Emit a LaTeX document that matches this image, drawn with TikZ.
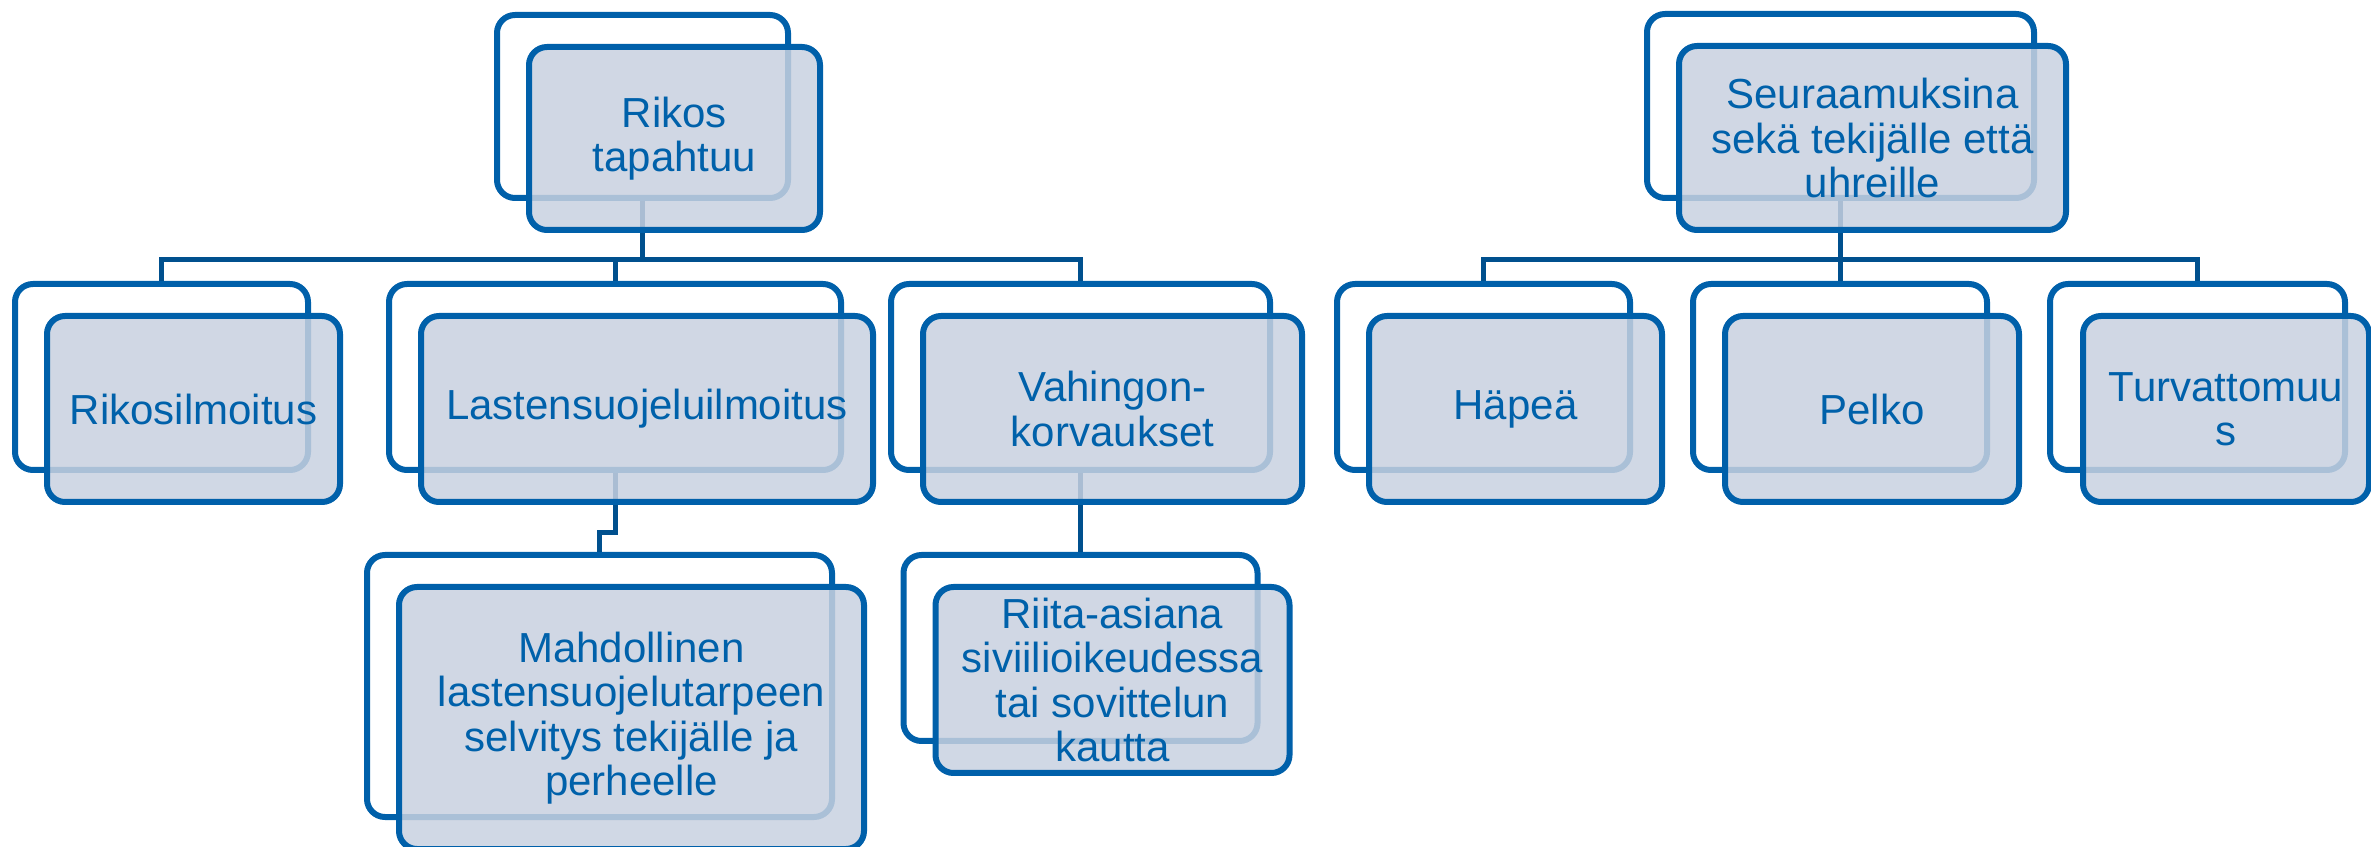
\documentclass[tikz,border=0pt]{standalone}
\usepackage{fontspec}
\setmainfont{Liberation Sans}
\usepackage{tikz}
\usetikzlibrary{calc}
\definecolor{smblue}{RGB}{0,96,170}
\definecolor{smline}{RGB}{0,80,142}
\definecolor{smfill}{RGB}{200,209,224}
\definecolor{smtext}{RGB}{0,97,170}
\tikzset{
  backbox/.style 2 args={draw=smblue, line width=1.8pt, rounded corners=5.4pt, fill=white,
    minimum width=#1*0.3pt, minimum height=#2*0.3pt, inner sep=0pt},
  frontbox/.style 2 args={backbox={#1}{#2}, fill=smfill, fill opacity=0.85, text opacity=1,
    text=smtext, align=center, font=\fontsize{12.6}{13.3}\selectfont},
  link/.style={draw=smline, line width=1.5pt},
}

\begin{document}
\begin{tikzpicture}[x=0.3pt, y=-0.3pt]

  %% <spacing>
  \useasboundingbox (0,0) rectangle (2371,847);
  % </spacing>

  %% back boxes, left tree
  \node[backbox={291}{183}] (rikos) at (642.5,106.5) {};
  \node[backbox={293}{186}] (rilm) at (161.5,377) {};
  \node[backbox={452}{186}] (lsilm) at (615,377) {};
  \node[backbox={379}{186}] (vahinko) at (1080.5,377) {};
  \node[backbox={465}{262}] (mahd) at (599.5,686) {};
  \node[backbox={354}{186}] (riita) at (1080.5,648) {};

  %% back boxes, right tree
  \node[backbox={387}{184}] (seur) at (1840.5,106) {};
  \node[backbox={293}{186}] (hapea) at (1483.5,377) {};
  \node[backbox={294}{186}] (pelko) at (1840,377) {};
  \node[backbox={295}{186}] (turva) at (2197.5,377) {};

  %% connectors
  \foreach \c in {rilm,lsilm,vahinko}
    \draw[link] (rikos.south) -- ++(0,59) -| (\c.north); % rikos->child
  \draw[link] (lsilm.south) -- ++(0,60) -| (mahd.north); % lsilm->mahd
  \draw[link] (vahinko.south) -- (riita.north); % vahinko->riita
  \foreach \c in {hapea,pelko,turva}
    \draw[link] (seur.south) -- ++(0,59) -| (\c.north); % seur->child

  %% front boxes with the texts
  \node[frontbox={291}{183}] (rikos-t) at ([shift={(32,32)}]rikos.center) {Rikos\\tapahtuu};
  \node[frontbox={293}{186}] (rilm-t) at ([shift={(32,32)}]rilm.center) {Rikosilmoitus};
  \node[frontbox={452}{186}] (lsilm-t) at ([shift={(32,32)}]lsilm.center) {Lastensuojeluilmoitus};
  \node[frontbox={379}{186}] (vahinko-t) at ([shift={(32,32)}]vahinko.center) {Vahingon-\\korvaukset};
  \node[frontbox={465}{262}] (mahd-t) at ([shift={(32,32)}]mahd.center)
    {Mahdollinen\\lastensuojelutarpeen\\selvitys tekijälle ja\\perheelle};
  \node[frontbox={354}{186}] (riita-t) at ([shift={(32,32)}]riita.center)
    {Riita-asiana\\siviilioikeudessa\\tai sovittelun\\kautta};

  \node[frontbox={387}{184}] (seur-t) at ([shift={(32,32)}]seur.center)
    {Seuraamuksina\\sekä tekijälle että\\uhreille};
  \node[frontbox={293}{186}] (hapea-t) at ([shift={(32,32)}]hapea.center) {Häpeä};
  \node[frontbox={294}{186}] (pelko-t) at ([shift={(32,32)}]pelko.center) {Pelko};
  \node[frontbox={286}{186}] (turva-t) at (2226,409) {Turvattomuu\\s};

\end{tikzpicture}
\end{document}
